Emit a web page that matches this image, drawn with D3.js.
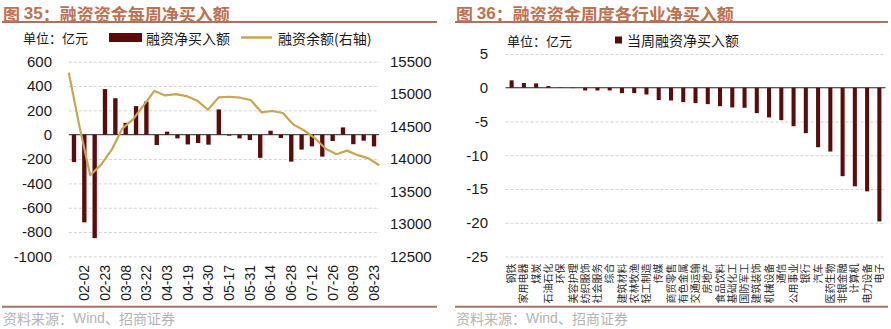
<!DOCTYPE html>
<html>
<head>
<meta charset="utf-8">
<script src="https://cdn.jsdelivr.net/npm/d3@7/dist/d3.min.js"></script>
<style>
  body { margin: 0; background: #fff; }
  svg { display: block; }
</style>
</head>
<body>
<svg id="chart" width="891" height="329"></svg>
<script>
// ---- Figure 35: weekly margin-financing net buying (bars) and balance (line, right axis)
const weekDates = ["01-26","02-02","02-08","02-23","03-01","03-08","03-15","03-22","03-29","04-03",
                   "04-12","04-19","04-26","04-30","05-10","05-17","05-24","05-31","06-07","06-14",
                   "06-21","06-28","07-05","07-12","07-19","07-26","08-02","08-09","08-16","08-23"];
const netBuy = [-225, -720, -850, 375, 300, 98, 235, 273, -85, 25,
                -30, -80, -68, -82, 208, -8, -30, -44, -190, 33,
                -27, -221, -122, -96, -180, -52, 60, -78, -49, -96];
const balance = [15330, 14500, 13750, 13910, 14140, 14470, 14610, 14830, 15050, 14980,
                 15000, 14970, 14900, 14760, 14950, 14960, 14945, 14910, 14720, 14740,
                 14710, 14530, 14440, 14320, 14160, 14075, 14130, 14060, 14010, 13905];
const leftTicks = [600, 400, 200, 0, -200, -400, -600, -800, -1000];
const rightTicks = [15500, 15000, 14500, 14000, 13500, 13000, 12500];

// ---- Figure 36: weekly net buying by industry
const industries = ["钢铁","家用电器","煤炭","石油石化","环保","美容护理","纺织服饰","社会服务","综合","建筑材料",
                    "农林牧渔","轻工制造","传媒","商贸零售","有色金属","交通运输","房地产","食品饮料","基础化工","国防军工",
                    "建筑装饰","机械设备","通信","公用事业","银行","汽车","医药生物","非银金融","计算机","电力设备","电子"];
const industryNet = [1.1, 0.7, 0.65, 0.25, 0.05, -0.05, -0.4, -0.4, -0.4, -0.8,
                     -0.8, -1.0, -1.83, -1.88, -2.13, -2.28, -2.43, -2.73, -2.92, -2.97,
                     -3.76, -4.4, -4.8, -5.69, -6.73, -8.81, -9.45, -13.1, -14.6, -15.35, -19.8];
const industryTicks = [5, 0, -5, -10, -15, -20, -25];

const CJK = '"Noto Sans CJK SC", sans-serif';
const NUM = '"Liberation Sans", Arial, sans-serif';
const titleColor = "#c0704e";
const ruleColor = "#a8735f";
const barColor = "#5c0b0b";
const lineColor = "#c9a64f";
const gridColor = "#d2d2d2";
const textColor = "#1a1a1a";
const plain = v => String(v);

const svg = d3.select("#chart");

// Title, rules and source note shared by both panels
function panelFrame(x0, x1, num, title) {
  const t = svg.append("text")
    .attr("x", x0 + 1).attr("y", 12.5)
    .attr("dominant-baseline", "central")
    .attr("fill", titleColor).attr("font-size", 17).attr("font-weight", "bold")
    .attr("font-family", CJK);
  t.append("tspan").text("图 ");
  t.append("tspan").attr("font-family", NUM).text(num);
  t.append("tspan").text("：" + title);

  svg.append("line").attr("x1", x0).attr("x2", x1).attr("y1", 22).attr("y2", 22)
    .attr("stroke", ruleColor).attr("stroke-width", 2);
  svg.append("line").attr("x1", x0).attr("x2", x1).attr("y1", 306.7).attr("y2", 306.7)
    .attr("stroke", ruleColor).attr("stroke-width", 2);

  const s = svg.append("text").attr("x", x0 + 1).attr("y", 318)
    .attr("dominant-baseline", "central").attr("fill", "#b4b4b4").attr("font-size", 14)
    .attr("font-family", CJK);
  s.append("tspan").text("资料来源：");
  s.append("tspan").attr("font-family", NUM).text("Wind");
  s.append("tspan").text("、招商证券");
}

function gridlines(scale, ticks, xLeft, xRight) {
  const g = svg.append("g").attr("transform", `translate(${xLeft},0)`)
    .call(d3.axisRight(scale).tickValues(ticks.filter(v => v !== 0))
      .tickSize(xRight - xLeft).tickFormat(""));
  g.select(".domain").remove();
  g.selectAll("line").attr("stroke", gridColor).attr("stroke-dasharray", "3,2");
  svg.append("line").attr("x1", xLeft).attr("x2", xRight)
    .attr("y1", scale(0)).attr("y2", scale(0))
    .attr("stroke", "#222").attr("stroke-width", 1);
}

function valueAxis(axis, x) {
  const g = svg.append("g").attr("transform", `translate(${x},0)`)
    .call(axis.tickSize(0).tickPadding(0).tickFormat(plain));
  g.select(".domain").remove();
  g.selectAll("text").attr("font-size", 15).attr("font-family", NUM).attr("fill", textColor);
  return g;
}

// ================= Left panel =================
panelFrame(2, 437, "35", "融资资金每周净买入额");
{
  const xL = 68.8, xR = 379.2;
  const yL = d3.scaleLinear().domain([-1000, 600]).range([256.4, 61.7]);
  const yR = d3.scaleLinear().domain([12500, 15500]).range([256.4, 61.7]);
  const xBand = d3.scaleBand().domain(weekDates).range([xL, xR]).paddingInner(0.58).paddingOuter(0.29);
  const xPoint = d3.scalePoint().domain(weekDates).range([xL, xR]);

  gridlines(yL, leftTicks, xL, xR);

  svg.append("g").selectAll("rect").data(weekDates).join("rect")
    .attr("x", d => xBand(d))
    .attr("width", xBand.bandwidth())
    .attr("y", (d, i) => Math.min(yL(0), yL(netBuy[i])))
    .attr("height", (d, i) => Math.abs(yL(netBuy[i]) - yL(0)))
    .attr("fill", barColor);

  svg.append("path")
    .datum(weekDates)
    .attr("fill", "none").attr("stroke", lineColor).attr("stroke-width", 2.2)
    .attr("stroke-linejoin", "round")
    .attr("d", d3.line().x(d => xPoint(d)).y((d, i) => yR(balance[i])));

  valueAxis(d3.axisLeft(yL).tickValues(leftTicks), 52);
  valueAxis(d3.axisRight(yR).tickValues(rightTicks), 390);

  const xa = svg.append("g").attr("transform", "translate(0,265)")
    .call(d3.axisBottom(xBand).tickValues(weekDates.filter((d, i) => i % 2 === 1)).tickSize(0));
  xa.select(".domain").remove();
  xa.selectAll("text")
    .attr("x", 0).attr("y", 0).attr("dy", "0.35em")
    .attr("transform", "rotate(-90)").attr("text-anchor", "end")
    .attr("font-size", 14).attr("font-family", NUM).attr("fill", textColor);

  // legend
  const lg = svg.append("g").attr("font-family", CJK).attr("font-size", 14).attr("fill", textColor);
  lg.append("text").attr("x", 23).attr("y", 37.5).attr("dominant-baseline", "central")
    .attr("font-size", 13).text("单位：亿元");
  lg.append("rect").attr("x", 109).attr("y", 33).attr("width", 33).attr("height", 9).attr("fill", barColor);
  lg.append("text").attr("x", 146).attr("y", 37.5).attr("dominant-baseline", "central").text("融资净买入额");
  lg.append("line").attr("x1", 241).attr("x2", 272).attr("y1", 37.5).attr("y2", 37.5)
    .attr("stroke", lineColor).attr("stroke-width", 2.5);
  lg.append("text").attr("x", 278).attr("y", 37.5).attr("dominant-baseline", "central").text("融资余额(右轴)");
}

// ================= Right panel =================
panelFrame(455, 888, "36", "融资资金周度各行业净买入额");
{
  const xL = 505.5, xR = 885.5;
  const y = d3.scaleLinear().domain([-25, 5]).range([256.5, 54]);
  const xBand = d3.scaleBand().domain(industries).range([xL, xR]).paddingInner(0.67).paddingOuter(0.335);

  gridlines(y, industryTicks, xL, xR);

  svg.append("g").selectAll("rect").data(industries).join("rect")
    .attr("x", d => xBand(d))
    .attr("width", xBand.bandwidth())
    .attr("y", (d, i) => Math.min(y(0), y(industryNet[i])))
    .attr("height", (d, i) => Math.abs(y(industryNet[i]) - y(0)))
    .attr("fill", barColor);

  valueAxis(d3.axisLeft(y).tickValues(industryTicks), 488);

  const xa = svg.append("g").attr("transform", "translate(0,263.5)")
    .call(d3.axisBottom(xBand).tickSize(0));
  xa.select(".domain").remove();
  xa.selectAll("text")
    .attr("x", 0).attr("y", 0).attr("dy", "0.36em")
    .attr("transform", "rotate(-90)").attr("text-anchor", "end")
    .attr("font-size", 10).attr("font-family", CJK).attr("fill", "#2a2a2a");

  const lg = svg.append("g").attr("font-family", CJK).attr("font-size", 14).attr("fill", textColor);
  lg.append("text").attr("x", 507).attr("y", 40).attr("dominant-baseline", "central")
    .attr("font-size", 13).text("单位：亿元");
  lg.append("rect").attr("x", 615).attr("y", 36.5).attr("width", 7).attr("height", 7).attr("fill", barColor);
  lg.append("text").attr("x", 627).attr("y", 40).attr("dominant-baseline", "central").text("当周融资净买入额");
}
</script>
</body>
</html>
